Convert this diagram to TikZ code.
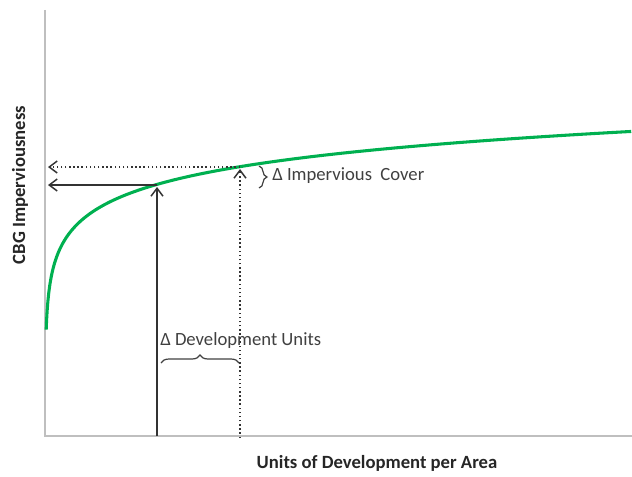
\documentclass[tikz,border=0pt]{standalone}
\usepackage{fontspec}
\setmainfont{Carlito}
\usetikzlibrary{arrows.meta,decorations.pathreplacing}
\definecolor{curvegreen}{RGB}{0,176,80}
\definecolor{axisgray}{RGB}{191,191,191}
\definecolor{textgray}{RGB}{64,64,64}
\begin{document}
\begin{tikzpicture}[x=0.75pt,y=0.75pt,
  axis/.style={draw=axisgray,line width=1pt},
  guide/.style={draw=black!80,line width=1.1pt,-{Straight Barb[length=6pt,width=9pt]}},
  dotguide/.style={guide,dotted},
  curly/.style={decorate,decoration={brace,amplitude=6pt},textgray,line width=0.9pt},
  lbl/.style={text=textgray,font=\fontsize{14}{16}\selectfont,inner sep=0pt},
  axlbl/.style={text=black!85,font=\bfseries\fontsize{14}{16}\selectfont}]
\useasboundingbox (0,0) rectangle (632,476);
\coordinate (o) at (45,40);
\coordinate (ytop) at (45,466);
\coordinate (xend) at (632,40);
\coordinate (c1) at (157,291);
\coordinate (c2) at (240,309);
\coordinate (b1) at (157,40);
\coordinate (b2) at (240,38);
\coordinate (h1) at (48,291);
\coordinate (h2) at (48,309);
\draw[axis] (ytop) -- (o) -- (xend);
\draw[curvegreen,line width=2.3pt] plot[domain=0.18:6.375,samples=120,smooth] ({45+exp(\x)},{140.6+32*\x});
\draw[guide] (b1) -- (157,289);
\draw[guide] (c1) -- (h1);
\draw[dotguide] (b2) -- (240,307);
\draw[dotguide] (c2) -- (h2);
\draw[curly] (259,310) -- (259,288);
\draw[curly] (161,113) -- (239,113);
\node[lbl,anchor=west] (dimp) at (272,300) {Δ Impervious\ \ Cover};
\node[lbl,anchor=west] (ddev) at (160,135) {Δ Development\ Units};
\node[axlbl,rotate=90] (ylab) at (20,291) {CBG Imperviousness};
\node[axlbl] (xlab) at (377,13) {Units of Development per Area};
\end{tikzpicture}
\end{document}
